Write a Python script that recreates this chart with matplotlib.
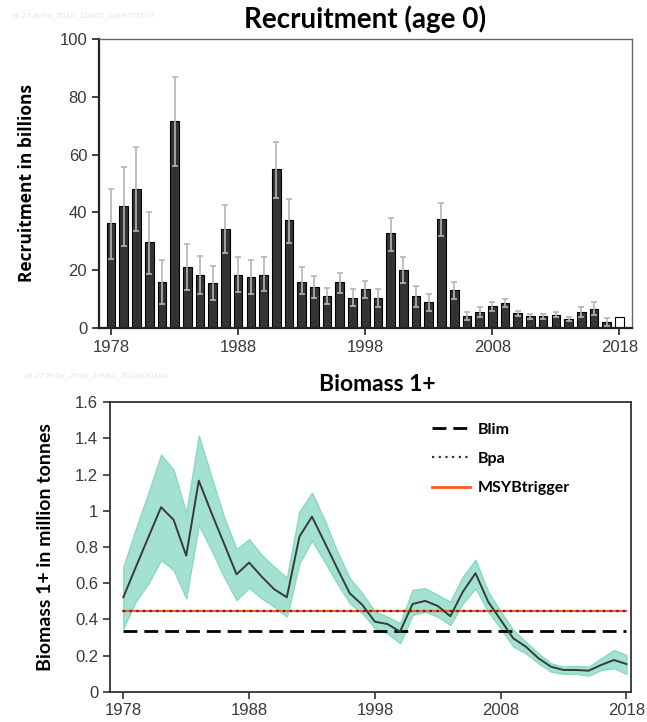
import matplotlib
matplotlib.use("Agg")
import matplotlib.pyplot as plt
import numpy as np

# recruitment (billions)
rec_years = list(range(1978, 2019))
rec_vals = [36.3, 42.3, 48.2, 29.7, 15.9, 71.5, 21.0, 18.5, 15.5, 34.2,
            18.5, 17.6, 18.5, 55.0, 37.3, 16.0, 14.1, 11.1, 16.0, 10.5,
            13.5, 10.5, 32.7, 20.1, 11.1, 9.1, 37.8, 13.0, 4.0, 5.5,
            7.5, 8.5, 5.1, 4.0, 4.0, 4.6, 3.0, 5.5, 6.6, 2.0, 3.9]
rec_hi = [48.0, 55.8, 62.7, 40.1, 23.4, 86.9, 29.0, 24.9, 21.4, 42.7,
          24.4, 23.4, 24.4, 64.3, 44.7, 21.0, 18.0, 14.0, 18.9, 13.4,
          16.4, 13.4, 38.1, 24.6, 14.5, 11.9, 43.2, 15.9, 5.4, 7.4,
          8.9, 9.9, 5.9, 4.8, 4.8, 5.5, 3.8, 7.4, 8.9, 3.4, None]
rec_lo = [23.9, 28.3, 33.6, 18.8, 8.2, 56.1, 13.3, 11.7, 9.6, 26.0,
          12.4, 11.7, 12.7, 45.1, 29.5, 11.7, 10.3, 8.2, 12.2, 7.6,
          10.3, 7.4, 26.7, 15.5, 7.4, 6.0, 32.0, 10.0, 2.7, 3.9,
          6.0, 7.2, 4.2, 3.1, 3.1, 3.7, 2.3, 3.9, 4.4, 0.8, None]

# biomass 1+ (million tonnes)
bio_years = list(range(1978, 2019))
bio_vals = [0.522, 0.69, 0.855, 1.02, 0.95, 0.752, 1.167, 0.99, 0.82, 0.649,
            0.714, 0.636, 0.566, 0.522, 0.857, 0.968, 0.826, 0.683, 0.544, 0.48,
            0.387, 0.374, 0.332, 0.485, 0.502, 0.474, 0.417, 0.553, 0.655, 0.498,
            0.397, 0.295, 0.249, 0.185, 0.138, 0.12, 0.12, 0.116, 0.148, 0.175,
            0.153]
bio_hi = [0.69, 0.9, 1.1, 1.31, 1.226, 0.987, 1.416, 1.19, 0.968, 0.788,
          0.843, 0.756, 0.69, 0.63, 0.996, 1.1, 0.95, 0.775, 0.628, 0.544,
          0.443, 0.415, 0.378, 0.563, 0.572, 0.535, 0.498, 0.636, 0.729, 0.553,
          0.443, 0.341, 0.276, 0.212, 0.157, 0.138, 0.142, 0.138, 0.185, 0.23,
          0.203]
bio_lo = [0.35, 0.5, 0.6, 0.728, 0.673, 0.516, 0.922, 0.784, 0.636, 0.507,
          0.575, 0.516, 0.47, 0.415, 0.71, 0.835, 0.72, 0.6, 0.489, 0.434,
          0.351, 0.323, 0.268, 0.424, 0.443, 0.415, 0.369, 0.489, 0.572, 0.443,
          0.35, 0.25, 0.212, 0.157, 0.111, 0.098, 0.098, 0.089, 0.12, 0.13,
          0.098]

blim = 0.337
bpa = 0.446
msy_btrigger = 0.446

x_ticks = [1978, 1988, 1998, 2008, 2018]

tick_font = ["Liberation Sans", "DejaVu Sans"]
title_font = ["Lato", "DejaVu Sans"]
label_font = ["Open Sans", "DejaVu Sans"]

fig = plt.figure(figsize=(6.47, 7.22), dpi=100)

# ---------------- recruitment ----------------
ax1 = fig.add_axes([0.153, 0.5457, 0.824, 0.4003])
yrs = np.array(rec_years)
vals = np.array(rec_vals)
colors = ["#333333"] * (len(yrs) - 1) + ["white"]
ax1.bar(yrs, vals, width=0.68, color=colors, edgecolor="black", linewidth=0.8, zorder=2)

err_idx = [i for i, v in enumerate(rec_hi) if v is not None]
ex = yrs[err_idx]
ey = vals[err_idx]
up = np.array([rec_hi[i] for i in err_idx]) - ey
dn = ey - np.array([rec_lo[i] for i in err_idx])
ax1.errorbar(ex, ey, yerr=[dn, up], fmt="none", ecolor="#b5b5b5",
             elinewidth=1.2, capsize=2.5, capthick=1.2, zorder=3)

ax1.set_xlim(1977.05, 2019.0)
ax1.set_ylim(0, 100)
ax1.set_xticks(x_ticks)
ax1.set_yticks([0, 20, 40, 60, 80, 100])
for s in ["left", "bottom"]:
    ax1.spines[s].set_linewidth(1.6)
    ax1.spines[s].set_color("#222222")
for s in ["top", "right"]:
    ax1.spines[s].set_linewidth(1.0)
    ax1.spines[s].set_color("#666666")
ax1.tick_params(length=5, width=1.2, labelsize=12, colors="#222222", labelcolor="#3a3a3a")
for lab in ax1.get_xticklabels() + ax1.get_yticklabels():
    lab.set_family(tick_font)
ax1.set_ylabel("Recruitment in billions", fontsize=12.5, fontweight="bold",
               family=label_font, labelpad=17)

fig.text(0.565, 0.973, "Recruitment (age 0)", ha="center", va="center",
         fontsize=20, fontweight="bold", family=title_font)
fig.text(0.018, 0.977, "pil.27.8c9e_2018_10062_2018751637", ha="left", va="center",
         fontsize=6, color="#e6e6e6", family=tick_font)

# ---------------- biomass ----------------
ax2 = fig.add_axes([0.170, 0.042, 0.806, 0.4008])
ax2.fill_between(bio_years, bio_lo, bio_hi, color="#a3e2d0", edgecolor="#8ad8c1",
                 linewidth=1.0, zorder=1)
ax2.plot(bio_years, bio_vals, color="#3a3a3a", lw=1.4, zorder=4)

x0, x1 = bio_years[0], bio_years[-1]
ax2.plot([x0, x1], [blim, blim], color="black", ls=(0, (5, 2.5)), lw=2.0,
         label="Blim", zorder=3)
ax2.plot([x0, x1], [msy_btrigger, msy_btrigger], color="#ff5a1f", lw=1.6,
         zorder=3)
ax2.plot([x0, x1], [bpa, bpa], color="#333333", ls=(0, (1, 2)), lw=1.6,
         label="Bpa", zorder=3)
# legend handle for MSY Btrigger
ax2.plot([], [], color="#ff5a1f", lw=2.0, label="MSYBtrigger")

ax2.set_xlim(1976.94, 2018.4)
ax2.set_ylim(0, 1.6)
ax2.set_xticks(x_ticks)
ax2.set_yticks([0, 0.2, 0.4, 0.6, 0.8, 1.0, 1.2, 1.4, 1.6])
ax2.set_yticklabels(["0", "0.2", "0.4", "0.6", "0.8", "1", "1.2", "1.4", "1.6"])
for s in ax2.spines.values():
    s.set_linewidth(1.3)
    s.set_color("#333333")
ax2.tick_params(length=5, width=1.2, labelsize=12, colors="#333333", labelcolor="#3a3a3a")
for lab in ax2.get_xticklabels() + ax2.get_yticklabels():
    lab.set_family(tick_font)
ax2.set_ylabel("Biomass 1+ in million tonnes", fontsize=14, fontweight="bold",
               family=title_font, labelpad=15)

leg = ax2.legend(loc="upper left", bbox_to_anchor=(0.617, 0.93), frameon=False,
                 handlelength=2.4, labelspacing=0.95, borderpad=0, borderaxespad=0,
                 handletextpad=0.5, prop={"family": title_font, "weight": "bold", "size": 11.5})

fig.text(0.583, 0.467, "Biomass 1+", ha="center", va="center",
         fontsize=16.5, fontweight="bold", family=title_font)
fig.text(0.038, 0.478, "pil.27.8c9e_2018_10062_2018630104", ha="left", va="center",
         fontsize=6, color="#e6e6e6", family=tick_font)

fig.savefig("out.png", dpi=100)
